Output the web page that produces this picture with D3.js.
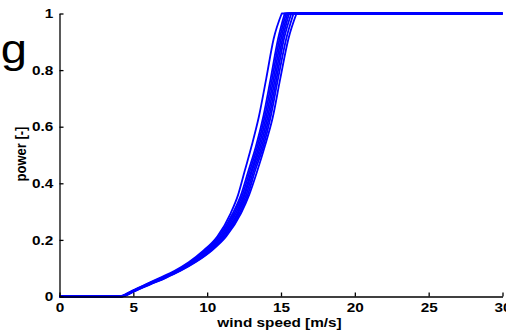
<!DOCTYPE html>
<html><head><meta charset="utf-8">
<script src="https://cdn.jsdelivr.net/npm/d3@7"></script>
<style>body{margin:0;background:#fff}svg{display:block}text{font-family:"Liberation Sans",Arial,sans-serif}</style>
</head><body>
<svg id="c" width="506" height="331"></svg>
<script>
// power levels shared by all curves
const powerLevels = [0, 0.02, 0.043, 0.066, 0.091, 0.121, 0.16, 0.213, 0.295, 0.36, 0.445, 0.53, 0.635, 0.77, 0.91, 1];
// wind speed at which each curve reaches the corresponding power level
const curve1 = [4.0, 4.9, 5.85, 6.8, 7.8, 8.75, 9.7, 10.7, 11.6, 12.1, 12.55, 13.0, 13.5, 14.0, 14.5, 15.05];
const curve2 = [4.05, 4.95, 5.9, 6.9, 7.9, 8.85, 9.8, 10.8, 11.75, 12.3, 12.8, 13.3, 13.8, 14.3, 14.8, 15.25];
const curve3 = [4.1, 5.0, 5.95, 6.95, 7.95, 8.9, 9.9, 10.9, 11.85, 12.4, 12.9, 13.4, 13.9, 14.4, 14.9, 15.35];
const curve4 = [4.1, 5.0, 6.0, 7.0, 8.0, 9.0, 10.0, 11.0, 11.95, 12.5, 13.0, 13.5, 14.0, 14.5, 15.0, 15.45];
const curve5 = [4.15, 5.05, 6.05, 7.05, 8.05, 9.05, 10.05, 11.05, 12.05, 12.55, 13.05, 13.6, 14.1, 14.6, 15.1, 15.55];
const curve6 = [4.15, 5.05, 6.05, 7.1, 8.1, 9.1, 10.1, 11.1, 12.1, 12.65, 13.15, 13.7, 14.2, 14.7, 15.2, 15.7];
const curve7 = [4.2, 5.1, 6.1, 7.15, 8.15, 9.15, 10.2, 11.2, 12.2, 12.75, 13.25, 13.8, 14.3, 14.8, 15.35, 15.85];
const curve8 = [4.2, 5.15, 6.15, 7.2, 8.2, 9.2, 10.25, 11.3, 12.3, 12.85, 13.4, 13.9, 14.45, 14.95, 15.5, 16.05];
const curves = [curve1, curve2, curve3, curve4, curve5, curve6, curve7, curve8];
const xStart = 0, xEnd = 30;
const xTicks = [0, 5, 10, 15, 20, 25, 30];
const yTicks = [0, 0.2, 0.4, 0.6, 0.8, 1];
const xLabel = "wind speed [m/s]";
const yLabel = "power [-]";
const panelLabel = "g";

const SX = 1.18; // horizontal stretch of the reference's text
const svg = d3.select("#c");
const L = 59.5, R = 502.5, T = 13.5, B = 296.5;
const x = d3.scaleLinear().domain([0, 30]).range([L, R]);
const y = d3.scaleLinear().domain([0, 1]).range([B, T]);

const smooth = d3.line().x(d => x(d[0])).y(d => y(d[1])).curve(d3.curveMonotoneX);
const straight = d3.line().x(d => x(d[0])).y(d => y(d[1]));
const g = svg.append("g");
curves.forEach(ws => {
  const rising = [[xStart, 0]].concat(ws.map((w, i) => [w, powerLevels[i]]));
  const last = rising[rising.length - 1];
  const d = smooth(rising) + straight([last, [xEnd, 1]]).replace(/^M[^L]*/, "");
  g.append("path").attr("d", d).attr("fill", "none")
    .attr("stroke", "#0000ff").attr("stroke-width", 1.8).attr("stroke-linejoin", "round");
});

const FS = "13px";
const xa = svg.append("g").attr("transform", `translate(0,${B})`)
  .call(d3.axisBottom(x).tickValues(xTicks).tickFormat(d3.format("d")).tickSizeInner(-4).tickSizeOuter(0).tickPadding(6.5));
const ya = svg.append("g").attr("transform", `translate(${L},0)`)
  .call(d3.axisLeft(y).tickValues(yTicks).tickFormat(d => d === 0 || d === 1 ? d3.format("d")(d) : d3.format(".1f")(d)).tickSizeInner(-4).tickSizeOuter(0).tickPadding(5.2));
[xa, ya].forEach(a => {
  a.select(".domain").attr("stroke", "#000").attr("stroke-width", 1.3);
  a.selectAll(".tick line").attr("stroke", "#000").attr("stroke-width", 1.3);
  a.selectAll("text").attr("fill", "#000").attr("transform", `scale(${SX},1)`)
    .style("font-size", FS).style("font-weight", "bold").style("font-family", '"Liberation Sans",Arial,sans-serif');
});

svg.append("text").attr("transform", `translate(279.5,327.3) scale(${SX},1)`).attr("text-anchor", "middle")
  .style("font-size", FS).style("font-weight", "bold").text(xLabel);
svg.append("text").attr("transform", `translate(25.5,154) scale(${SX},1) rotate(-90)`).attr("text-anchor", "middle")
  .style("font-size", FS).style("font-weight", "bold").text(yLabel);
svg.append("text").attr("transform", `translate(27,62.5) scale(${SX},1)`).attr("text-anchor", "end")
  .style("font-size", "40px").text(panelLabel);
</script>
</body></html>
